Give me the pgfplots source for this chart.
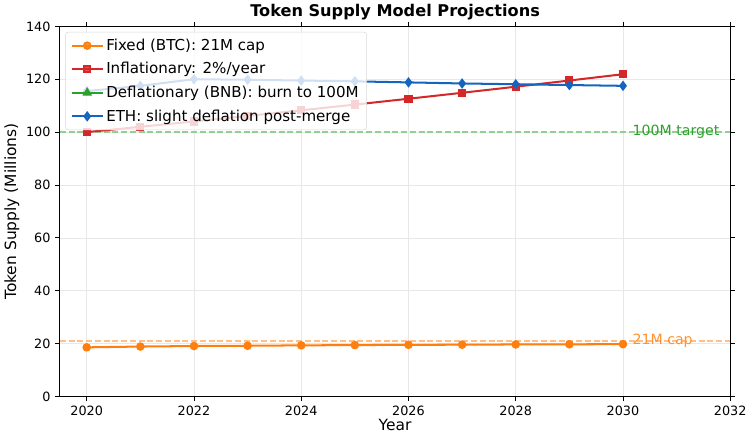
\documentclass[border=0pt]{standalone}
\usepackage{pgfplots}
\pgfplotsset{compat=1.18}
\usepackage{fontspec}
\setmainfont{DejaVu Sans}
\definecolor{cbtc}{HTML}{FF7F0E}
\definecolor{cinf}{HTML}{D62728}
\definecolor{cbnb}{HTML}{2CA02C}
\definecolor{ceth}{HTML}{1565C0}
\definecolor{gdash}{HTML}{90D090}
\definecolor{odash}{HTML}{FFBF86}
\begin{document}
\begin{tikzpicture}
\begin{axis}[
  scale only axis,
  width=498pt, height=275pt,
  xmin=2019.5, xmax=2032, ymin=0, ymax=140,
  xtick={2020,2022,...,2032}, ytick={0,20,...,140},
  /pgf/number format/1000 sep={},
  /pgf/number format/assume math mode=true,
  tick label style={font=\fontsize{9.5}{11}\selectfont},
  xlabel={Year}, ylabel={Token Supply (Millions)},
  label style={font=\fontsize{11.5}{13}\selectfont},
  xlabel style={yshift=4pt},
  ylabel style={yshift=-2pt},
  title={\textbf{Token Supply Model Projections}},
  title style={font=\fontsize{12}{14}\selectfont, yshift=-5pt},
  grid=major, major grid style={gray!18, line width=0.5pt},
  tick align=outside, tick style={black, line width=0.6pt},
  major tick length=3.5pt,
  axis line style={line width=0.6pt},
  legend cell align=left,
  legend style={font=\fontsize{11.2}{13}\selectfont, draw=gray!30, rounded corners=2pt, fill=white, fill opacity=0.8, text opacity=1, at={(0.008,0.985)}, anchor=north west, row sep=3.5pt, inner xsep=4pt, inner ysep=3pt},
  legend image code/.code={\draw[#1] (0cm,0cm) -- (0.8cm,0cm); \draw[#1, only marks] plot coordinates {(0.4cm,0cm)};},
  clip=true,
]
\addplot[gdash, dash pattern=on 4.5pt off 2pt, line width=1pt, forget plot] coordinates {(2019.5,100)(2032,100)};
\addplot[odash, dash pattern=on 4.5pt off 2pt, line width=1pt, forget plot] coordinates {(2019.5,21)(2032,21)};
\addplot[cbtc, line width=1.5pt, mark=*, mark size=2.4pt] coordinates {
(2020,18.6)(2021,18.9)(2022,19.1)(2023,19.2)(2024,19.35)(2025,19.45)(2026,19.55)(2027,19.6)(2028,19.7)(2029,19.75)(2030,19.8)};
\addlegendentry{Fixed (BTC): 21M cap}
\addplot[cinf, line width=1.5pt, mark=square*, mark size=2.3pt] coordinates {
(2020,100)(2021,102)(2022,104.04)(2023,106.12)(2024,108.24)(2025,110.41)(2026,112.62)(2027,114.87)(2028,117.17)(2029,119.51)(2030,121.9)};
\addlegendentry{Inflationary: 2\%/year}
\addplot[cbnb, line width=1.5pt, mark=triangle*, mark size=2.7pt] coordinates {
(2020,200)(2021,195)(2022,190)(2023,185)(2024,180)(2025,175)(2026,170)(2027,165)(2028,160)(2029,155)(2030,150)};
\addlegendentry{Deflationary (BNB): burn to 100M}
\addplot[ceth, line width=1.5pt, mark=diamond*, mark size=2.7pt] coordinates {
(2020,115.5)(2021,117.5)(2022,120)(2023,119.8)(2024,119.5)(2025,119.2)(2026,118.8)(2027,118.4)(2028,118.1)(2029,117.8)(2030,117.5)};
\addlegendentry{ETH: slight deflation post-merge}
\node[anchor=west, text=cbnb, font=\fontsize{10.5}{12}\selectfont, inner sep=1pt] at (axis cs:2030.15,100) {100M target};
\node[anchor=west, text=cbtc!85, font=\fontsize{10.5}{12}\selectfont, inner sep=1pt] at (axis cs:2030.15,21) {21M cap};
\end{axis}
\end{tikzpicture}
\end{document}
